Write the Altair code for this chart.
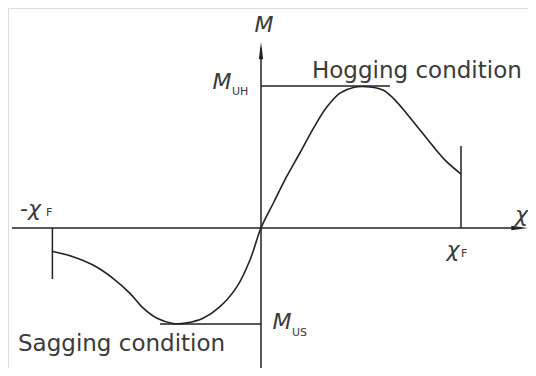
import altair as alt
import pandas as pd

# Moment-curvature curve (chi in units of chi_F, M in units of M_UH)
curve_x = [-1.04, -0.94, -0.84, -0.74, -0.655, -0.59, -0.52, -0.44, -0.37, -0.29, -0.205, -0.12, -0.055, 0.0,
           0.062, 0.128, 0.195, 0.262, 0.328, 0.395, 0.462, 0.545, 0.612, 0.662, 0.728, 0.795, 0.862, 0.928, 1.0]
curve_m = [-0.165, -0.202, -0.261, -0.354, -0.46, -0.563, -0.636, -0.672, -0.668, -0.636, -0.554, -0.413, -0.225, 0.0,
           0.176, 0.361, 0.53, 0.702, 0.85, 0.95, 0.99, 0.993, 0.97, 0.913, 0.807, 0.69, 0.573, 0.467, 0.38]

M_UH = 1.0
M_US = -0.676
CHI_F = 1.0

# line segments: axes, reference lines, end verticals
seg_x = [-1.245, 0.0, 0.0, -0.505, 1.0, -1.043]
seg_x2 = [1.3, 0.0, 0.645, 0.0, 1.0, -1.043]
seg_y = [0.0, -0.986, M_UH, M_US, 0.0, 0.0]
seg_y2 = [0.0, 1.27, M_UH, M_US, 0.577, -0.359]

# arrow heads
arrow_x = [1.295, 0.0]
arrow_y = [0.0, 1.25]

# labels
italic_text = ["M", "M", "M", "-χ", "χ", "χ"]
italic_x = [0.015, -0.195, 0.105, -1.205, 0.96, 1.335]
italic_y = [1.43, 1.025, -0.665, 0.134, -0.155, 0.09]
italic_align = ["center", "center", "center", "left", "center", "right"]

sub_text = ["UH", "US", "F", "F"]
sub_x = [-0.145, 0.155, -1.075, 1.0]
sub_y = [0.955, -0.74, 0.106, -0.183]

cond_text = ["Hogging condition", "Sagging condition"]
cond_x = [0.255, -1.215]
cond_y = [1.058, -0.866]

X_DOM = [-1.265, 1.335]
Y_DOM = [-0.9859, 1.5493]
INK = "#222222"
TXT = "#3a3a3a"

xs = alt.Scale(domain=X_DOM, nice=False, zero=False)
ys = alt.Scale(domain=Y_DOM, nice=False, zero=False)


def pos():
    return dict(x=alt.X("x:Q", scale=xs, axis=None), y=alt.Y("y:Q", scale=ys, axis=None))


curve_df = pd.DataFrame({"x": curve_x, "y": curve_m, "o": list(range(len(curve_x)))})
seg_df = pd.DataFrame({"x": seg_x, "x2": seg_x2, "y": seg_y, "y2": seg_y2})

curve = alt.Chart(curve_df).mark_line(color=INK, strokeWidth=1.6, interpolate="catmull-rom").encode(
    order="o:Q", **pos()
)

segs = alt.Chart(seg_df).mark_rule(color=INK, strokeWidth=1.5).encode(x2="x2:Q", y2="y2:Q", **pos())

arr_r = alt.Chart(pd.DataFrame({"x": [arrow_x[0]], "y": [arrow_y[0]]})).mark_point(
    shape="M -1 -0.25 L 1 0 L -1 0.25 Z", size=300, filled=True, color=INK, opacity=1
).encode(**pos())

arr_u = alt.Chart(pd.DataFrame({"x": [arrow_x[1]], "y": [arrow_y[1]]})).mark_point(
    shape="M -0.25 1 L 0 -1 L 0.25 1 Z", size=300, filled=True, color=INK, opacity=1
).encode(**pos())

it_df = pd.DataFrame({"t": italic_text, "x": italic_x, "y": italic_y, "a": italic_align})
layers = [curve, segs, arr_r, arr_u]
for al in ["center", "left", "right"]:
    sub = it_df[it_df["a"] == al]
    layers.append(
        alt.Chart(sub).mark_text(font="DejaVu Sans", fontStyle="italic", fontSize=22, color=TXT,
                                 align=al, baseline="middle").encode(text="t:N", **pos())
    )

sub_df = pd.DataFrame({"t": sub_text, "x": sub_x, "y": sub_y})
layers.append(
    alt.Chart(sub_df).mark_text(font="DejaVu Sans", fontSize=11, color=TXT, align="left",
                                baseline="middle").encode(text="t:N", **pos())
)

cond_df = pd.DataFrame({"t": cond_text, "x": cond_x, "y": cond_y})
layers.append(
    alt.Chart(cond_df).mark_text(font="DejaVu Sans", fontSize=23, color=TXT, align="left",
                                 baseline="alphabetic").encode(text="t:N", **pos())
)

chart = alt.layer(*layers).properties(
    width=520, height=360, padding=0, autosize=alt.AutoSizeParams(type="none")
).configure_view(stroke=None).configure(background="white")

chart.save("out.html", embed_options={"renderer": "svg", "actions": False})
